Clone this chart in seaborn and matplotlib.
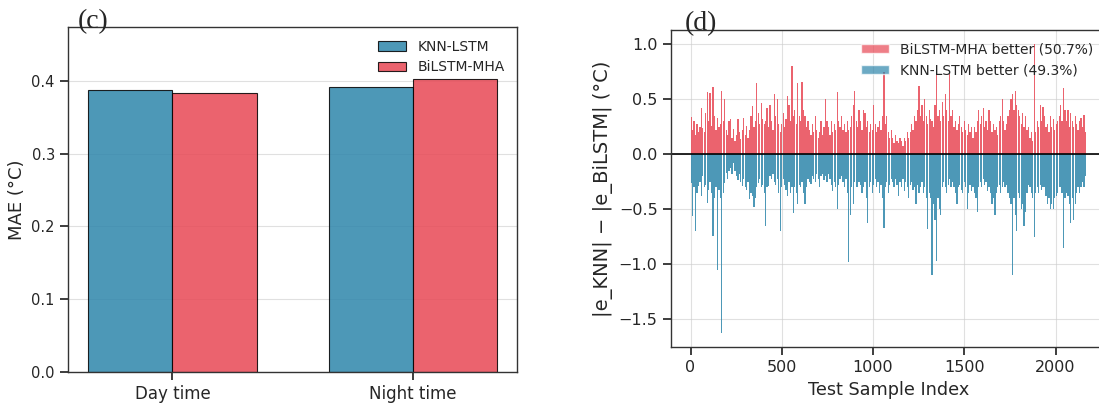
import numpy as np
import pandas as pd
import matplotlib
matplotlib.use("Agg")
import matplotlib.pyplot as plt
from matplotlib.patches import Patch
import seaborn as sns

# ---- (c) mean absolute error by period ----
periods = ["Day time", "Night time"]
models = ["KNN-LSTM", "BiLSTM-MHA"]
mae_knn = [0.387, 0.391]
mae_bilstm = [0.384, 0.402]

# ---- (d) per-sample error difference |e_KNN| - |e_BiLSTM| ----
# peak value within each block of consecutive test samples
block_size = 8
bilstm_better_peak = [
    0.34, 0.22, 0.30, 0.18, 0.28, 0.20, 0.25, 0.42, 0.24, 0.20,
    0.38, 0.57, 0.30, 0.56, 0.26, 0.61, 0.35, 0.22, 0.33, 0.25,
    0.28, 0.58, 0.30, 0.50, 0.22, 0.18, 0.30, 0.32, 0.15, 0.23,
    0.12, 0.18, 0.32, 0.20, 0.14, 0.22, 0.33, 0.18, 0.26, 0.15,
    0.22, 0.35, 0.44, 0.25, 0.30, 0.65, 0.38, 0.28, 0.47, 0.32,
    0.28, 0.30, 0.42, 0.25, 0.45, 0.30, 0.22, 0.55, 0.35, 0.50,
    0.28, 0.20, 0.28, 0.38, 0.25, 0.32, 0.53, 0.45, 0.30, 0.80,
    0.35, 0.40, 0.28, 0.65, 0.35, 0.30, 0.66, 0.40, 0.35, 0.25,
    0.30, 0.22, 0.18, 0.28, 0.20, 0.35, 0.22, 0.15, 0.20, 0.30,
    0.18, 0.25, 0.50, 0.30, 0.25, 0.18, 0.30, 0.20, 0.28, 0.22,
    0.57, 0.30, 0.25, 0.35, 0.22, 0.28, 0.20, 0.30, 0.22, 0.25,
    0.35, 0.45, 0.58, 0.30, 0.25, 0.40, 0.30, 0.22, 0.40, 0.38,
    0.25, 0.30, 0.20, 0.28, 0.22, 0.45, 0.28, 0.20, 0.25, 0.30,
    0.22, 0.35, 0.75, 0.28, 0.35, 0.20, 0.15, 0.22, 0.15, 0.10,
    0.18, 0.12, 0.10, 0.15, 0.12, 0.08, 0.15, 0.12, 0.20, 0.15,
    0.20, 0.28, 0.22, 0.35, 0.30, 0.40, 0.62, 0.35, 0.45, 0.30,
    0.50, 0.35, 0.28, 0.40, 0.32, 0.30, 0.25, 0.45, 0.75, 0.35,
    0.40, 0.30, 0.48, 0.35, 0.55, 0.40, 0.30, 0.73, 0.35, 0.40,
    0.25, 0.30, 0.22, 0.28, 0.35, 0.25, 0.20, 0.30, 0.22, 0.18,
    0.28, 0.20, 0.25, 0.15, 0.25, 0.20, 0.30, 0.40, 0.28, 0.35,
    0.42, 0.25, 0.30, 0.22, 0.40, 0.30, 0.20, 0.28, 0.22, 0.25,
    0.18, 0.30, 0.35, 0.50, 0.30, 0.22, 0.28, 0.35, 0.40, 0.50,
    0.55, 0.40, 0.58, 0.45, 0.40, 0.35, 0.28, 0.38, 0.25, 0.35,
    0.22, 0.25, 0.15, 0.20, 0.12, 1.00, 0.20, 0.30, 0.25, 0.45,
    0.30, 0.43, 0.35, 0.25, 0.28, 0.20, 0.35, 0.25, 0.32, 0.22,
    0.28, 0.30, 0.35, 0.45, 0.30, 0.60, 0.40, 0.30, 0.40, 0.25,
    0.38, 0.30, 0.25, 0.35, 0.28, 0.22, 0.30, 0.33, 0.25, 0.36,
    0.20,
]
knn_better_peak = [
    -0.26, -0.56, -0.30, -0.70, -0.35, -0.29, -0.25, -0.38, -0.20, -0.30,
    -0.28, -0.44, -0.32, -0.25, -0.35, -0.74, -0.40, -0.30, -1.05, -0.32,
    -0.40, -1.62, -0.35, -0.26, -0.17, -0.22, -0.15, -0.12, -0.18, -0.08,
    -0.15, -0.20, -0.23, -0.18, -0.25, -0.29, -0.22, -0.30, -0.32, -0.25,
    -0.41, -0.35, -0.38, -0.48, -0.40, -0.30, -0.26, -0.22, -0.30, -0.28,
    -0.35, -0.65, -0.30, -0.29, -0.20, -0.22, -0.18, -0.25, -0.28, -0.22,
    -0.35, -0.70, -0.30, -0.22, -0.28, -0.32, -0.38, -0.25, -0.35, -0.30,
    -0.53, -0.30, -0.35, -0.45, -0.28, -0.30, -0.25, -0.35, -0.45, -0.30,
    -0.22, -0.25, -0.27, -0.20, -0.22, -0.25, -0.18, -0.22, -0.30, -0.20,
    -0.18, -0.23, -0.20, -0.25, -0.18, -0.22, -0.28, -0.33, -0.25, -0.30,
    -0.50, -0.28, -0.22, -0.20, -0.25, -0.30, -0.22, -0.35, -0.98, -0.55,
    -0.30, -0.45, -0.25, -0.30, -0.30, -0.25, -0.28, -0.35, -0.30, -0.25,
    -0.40, -0.62, -0.30, -0.25, -0.35, -0.28, -0.22, -0.30, -0.25, -0.35,
    -0.28, -0.40, -0.67, -0.30, -0.25, -0.35, -0.28, -0.22, -0.25, -0.30,
    -0.22, -0.28, -0.38, -0.25, -0.30, -0.22, -0.33, -0.25, -0.30, -0.40,
    -0.28, -0.25, -0.32, -0.30, -0.45, -0.28, -0.35, -0.30, -0.25, -0.35,
    -0.30, -0.40, -0.68, -0.35, -0.40, -1.10, -0.45, -0.60, -0.97, -0.40,
    -0.50, -0.55, -0.30, -0.25, -0.30, -0.35, -0.28, -0.22, -0.30, -0.25,
    -0.30, -0.35, -0.45, -0.30, -0.28, -0.32, -0.35, -0.25, -0.30, -0.50,
    -0.35, -0.28, -0.33, -0.30, -0.35, -0.40, -0.52, -0.30, -0.25, -0.30,
    -0.22, -0.28, -0.25, -0.33, -0.30, -0.35, -0.45, -0.40, -0.55, -0.35,
    -0.30, -0.28, -0.35, -0.30, -0.25, -0.30, -0.28, -0.35, -0.40, -0.45,
    -1.10, -0.40, -0.55, -0.70, -0.35, -0.40, -0.50, -0.45, -0.65, -0.52,
    -0.35, -0.28, -0.30, -0.35, -0.40, -0.75, -0.35, -0.30, -0.35, -0.28,
    -0.32, -0.30, -0.30, -0.38, -0.45, -0.40, -0.50, -0.45, -0.50, -0.40,
    -0.38, -0.35, -0.30, -0.30, -0.35, -0.85, -0.40, -0.35, -0.38, -0.45,
    -0.62, -0.40, -0.60, -0.45, -0.35, -0.30, -0.35, -0.30, -0.25, -0.30,
    -0.20,
]
diff_labels = ["BiLSTM-MHA better (50.7%)", "KNN-LSTM better (49.3%)"]

blue = "#2E86AB"
red = "#E84855"

sns.set_theme(style="ticks")
plt.rcParams["font.family"] = ["DejaVu Sans"]
plt.rcParams["axes.edgecolor"] = "#333333"
plt.rcParams["axes.linewidth"] = 1.0

fig = plt.figure(figsize=(10.99, 4.08), dpi=100)
ax_c = fig.add_axes([0.0619, 0.0882, 0.4086, 0.8456])
ax_d = fig.add_axes([0.6103, 0.1495, 0.3961, 0.7770])

# ---- panel (c) ----
df_mae = pd.DataFrame({
    "period": periods * 2,
    "model": [models[0]] * len(periods) + [models[1]] * len(periods),
    "mae": mae_knn + mae_bilstm,
})
sns.barplot(data=df_mae, x="period", y="mae", hue="model", hue_order=models,
            palette=[blue, red], saturation=1, alpha=0.85, edgecolor="black",
            linewidth=0.8, width=0.7, errorbar=None, legend=False, ax=ax_c)
ax_c.set_xlim(-0.435, 1.435)
ax_c.set_ylim(0, 0.474)
ax_c.set_yticks([0.0, 0.1, 0.2, 0.3, 0.4])
ax_c.set_xlabel("")
ax_c.set_ylabel("MAE (°C)", fontsize=13)
ax_c.tick_params(axis="x", labelsize=12)
ax_c.tick_params(axis="y", labelsize=10.5)
ax_c.yaxis.grid(True, color="#cccccc", alpha=0.6, linewidth=0.8)
ax_c.set_axisbelow(True)
ax_c.legend(handles=[Patch(facecolor=blue, edgecolor="black", alpha=0.85, linewidth=0.8, label=models[0]),
                     Patch(facecolor=red, edgecolor="black", alpha=0.85, linewidth=0.8, label=models[1])],
            loc="upper right", frameon=False, fontsize=10)

# ---- panel (d) ----
starts = np.arange(len(bilstm_better_peak)) * block_size
ax_d.bar(starts, bilstm_better_peak, width=7, align="edge",
         color=red, alpha=0.85, linewidth=0)
ax_d.bar(starts, knn_better_peak, width=7, align="edge",
         color=blue, alpha=0.85, linewidth=0)
ax_d.axhline(0, color="black", linewidth=1.2)
ax_d.set_xlim(-108.4, 2276.4)
ax_d.set_ylim(-1.751, 1.131)
ax_d.set_xticks([0, 500, 1000, 1500, 2000])
ax_d.set_yticks([-1.5, -1.0, -0.5, 0.0, 0.5, 1.0])
ax_d.grid(True, color="#cccccc", alpha=0.6, linewidth=0.8)
ax_d.set_axisbelow(True)
ax_d.set_xlabel("Test Sample Index", fontsize=12.7)
ax_d.set_ylabel("|e_KNN| − |e_BiLSTM| (°C)", fontsize=14)
ax_d.tick_params(labelsize=11.5)
ax_d.legend(handles=[Patch(facecolor=red, alpha=0.7, label=diff_labels[0]),
                     Patch(facecolor=blue, alpha=0.7, label=diff_labels[1])],
            loc="upper right", frameon=False, fontsize=10)

# panel letters
fig.text(78 / 1099, 1 - 28 / 408, "(c)", family="Liberation Serif", fontsize=20,
         ha="left", va="baseline")
fig.text(685 / 1099, 1 - 30 / 408, "(d)", family="Liberation Serif", fontsize=20,
         ha="left", va="baseline")

fig.savefig("out.png", dpi=100)
